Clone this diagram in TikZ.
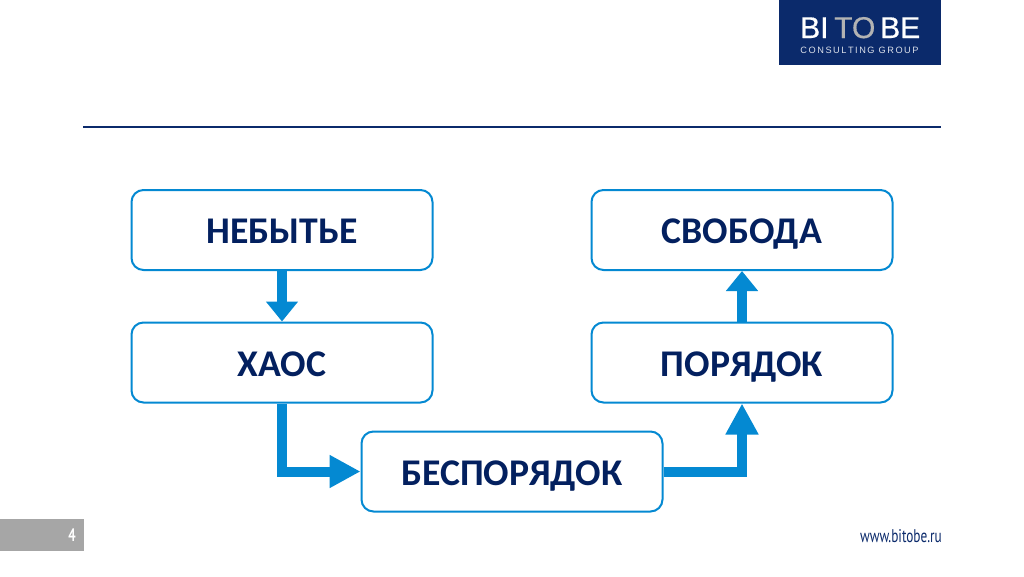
\documentclass[tikz,border=0pt]{standalone}
\usepackage{fontspec}
\setmainfont{Carlito}
\newfontfamily\logofont[FakeBold=0.6]{Liberation Sans}
\newfontfamily\subfont{Liberation Sans}
\newfontfamily\urlfont[FakeStretch=0.72]{PT Sans}
\usetikzlibrary{arrows.meta}
\definecolor{navy}{HTML}{03205F}
\definecolor{logonavy}{HTML}{0B2A6B}
\definecolor{cblue}{HTML}{0489D2}
\definecolor{pagegrey}{HTML}{A6A6A6}
\tikzset{
  x=1pt,y=-1pt,
  stepbox/.style={draw=cblue,line width=2pt,fill=white,rounded corners=12pt,minimum width=301pt,minimum height=80pt,inner sep=0pt,
    text=navy,text height=27pt,text depth=0pt,font=\fontsize{37.7}{40}\selectfont\bfseries},
  flow/.style={draw=cblue,line width=10pt,-{Triangle[length=20pt,width=31pt,color=cblue]}},
  flowlong/.style={draw=cblue,line width=10pt,-{Triangle[length=31pt,width=31pt,color=cblue]}},
  logotext/.style={anchor=base west,inner sep=0pt,font=\logofont\fontsize{30}{30}\selectfont},
}
\begin{document}
\begin{tikzpicture}
\useasboundingbox (0,0) rectangle (1024,576);
\fill[logonavy] (779,0) rectangle (941,65);
\node[logotext,text=white] (bi) at (800,38) {BI};
\node[logotext,text=pagegrey!85!white] (to) at (834,38) {TO};
\node[logotext,text=white] (be) at (880,38) {BE};
\node[anchor=base,inner sep=0pt,text=white!85!logonavy,font=\subfont\fontsize{9.2}{9}\selectfont] (cg) at (859.5,53) {C\,O\,N\,S\,U\,L\,T\,I\,N\,G\ \,G\,R\,O\,U\,P};
\draw[logonavy,line width=2pt] (83,127) -- (941,127);
\node[stepbox] (a) at (282,230) {НЕБЫТЬЕ};
\node[stepbox] (b) at (282,362.5) {ХАОС};
\node[stepbox] (c) at (512,471.5) {БЕСПОРЯДОК};
\node[stepbox] (d) at (742,362.5) {ПОРЯДОК};
\node[stepbox] (e) at (742,230) {СВОБОДА};
\draw[flow] (a.south) -- (b.north);
\draw[flowlong] (b.south) |- (c.west);
\draw[flowlong] (c.east) -| (d.south);
\draw[flow] (d.north) -- (e.south);
\fill[pagegrey] (0,519) rectangle (84,551);
\node[text=white,inner sep=0pt,font=\urlfont\fontsize{18}{18}\selectfont\bfseries] (pg) at (72,535) {4};
\node[anchor=east,inner sep=0pt,text=logonavy,font=\urlfont\fontsize{18.4}{19}\selectfont] (url) at (942,536) {www.bitobe.ru};
\end{tikzpicture}
\end{document}
